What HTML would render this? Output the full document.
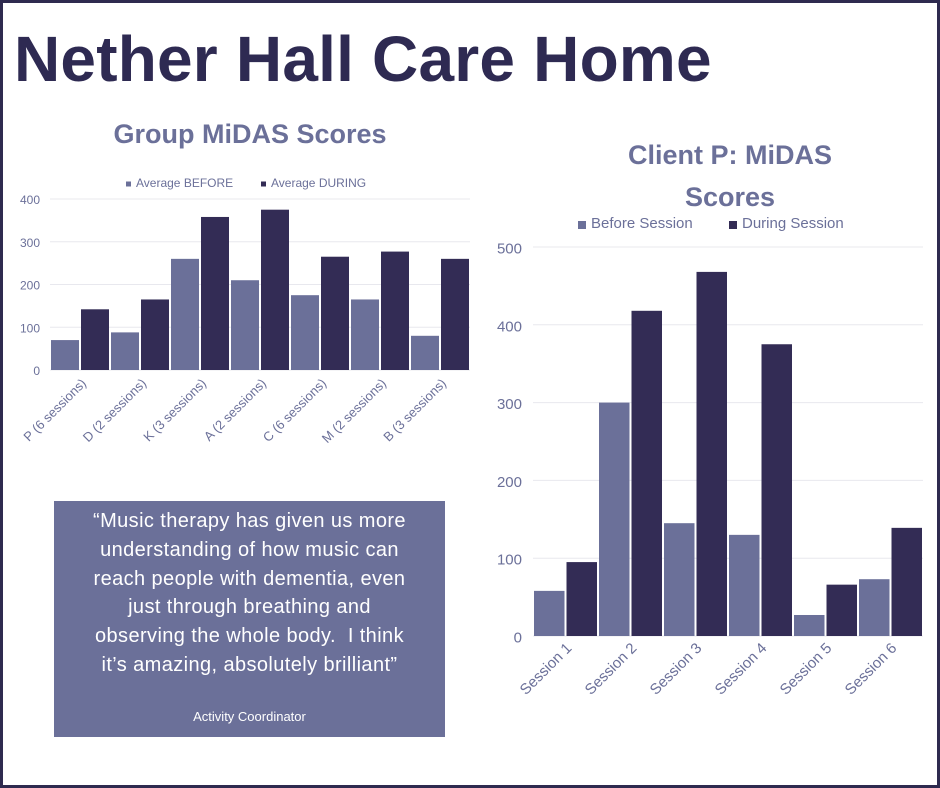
<!DOCTYPE html>
<html><head><meta charset="utf-8"><style>
body{margin:0;width:940px;height:788px;overflow:hidden;background:#fff;font-family:"Liberation Sans",sans-serif}
#frame{position:absolute;left:0;top:0;width:934px;height:782px;border:3px solid #2e2a4f;}
#title{position:absolute;left:14px;top:22px;font-size:64px;font-weight:bold;color:#2e2a52;letter-spacing:0.2px;white-space:nowrap}
.ct{position:absolute;color:#6b7099;font-weight:bold;text-align:center}
#quote{position:absolute;left:54px;top:501px;width:391px;height:236px;background:#6b7099;color:#fff;text-align:center}
#quote p{margin:6px 0 0;font-size:20px;line-height:28.8px;letter-spacing:0.4px;white-space:nowrap}
#quote .a{position:absolute;left:0;right:0;top:208px;font-size:13px}
svg{position:absolute;left:0;top:0}
</style></head><body>
<div id="frame"></div>
<div id="title">Nether Hall Care Home</div>
<div class="ct" style="left:40px;top:119px;width:420px;font-size:27px">Group MiDAS Scores</div>
<div class="ct" style="left:560px;top:134px;width:340px;font-size:27px;line-height:42px">Client P: MiDAS<br>Scores</div>
<div id="quote"><p>“Music therapy has given us more<br>understanding of how music can<br>reach people with dementia, even<br>just through breathing and<br>observing the whole body.&nbsp; I think<br>it’s amazing, absolutely brilliant”</p><div class="a">Activity Coordinator</div></div>
<svg id="chart" width="940" height="788"></svg>
<script>
const gCats=["P (6 sessions)","D (2 sessions)","K (3 sessions)","A (2 sessions)","C (6 sessions)","M (2 sessions)","B (3 sessions)"];
const gBefore=[70,88,260,210,175,165,80];
const gDuring=[142,165,358,375,265,277,260];
const gTicks=[0,100,200,300,400];
const pCats=["Session 1","Session 2","Session 3","Session 4","Session 5","Session 6"];
const pBefore=[58,300,145,130,27,73];
const pDuring=[95,418,468,375,66,139];
const pTicks=[0,100,200,300,400,500];
const NS="http://www.w3.org/2000/svg";
const svg=document.getElementById('chart');
function mk(t,a){const e=document.createElementNS(NS,t);for(const k in a)e.setAttribute(k,a[k]);svg.appendChild(e);return e;}
function chart(o){
  const y=v=>o.y0-(v-0)/o.max*(o.y0-o.yTop);
  const gw=(o.x1-o.x0)/o.cats.length;
  o.ticks.forEach(t=>{
    const l=mk('line',{x1:o.x0,x2:o.x1,y1:y(t),y2:y(t),stroke:'#e8e8ee','stroke-width':1});
    
    const tx=mk('text',{x:o.tx,y:y(t)+o.fs/2-1,'text-anchor':'end','font-size':o.fs,fill:'#6b7099'});
    tx.textContent=t;
  });
  o.cats.forEach((c,i)=>{
    const gx=o.x0+i*gw+1, bw=(gw-4)/2;
    const b1=mk('rect',{x:gx,y:y(o.b[i]),width:bw,height:o.y0-y(o.b[i]),fill:'#6b7099'});
    
    const b2=mk('rect',{x:gx+bw+2,y:y(o.d[i]),width:bw,height:o.y0-y(o.d[i]),fill:'#332c55'});
    
    const cx=o.x0+(i+0.5)*gw+o.lx, cy=o.y0+o.ly;
    const t=mk('text',{x:cx,y:cy,'text-anchor':'end','font-size':o.lfs2,fill:'#6b7099',transform:`rotate(-45 ${cx} ${cy})`});
    t.textContent=c;
  });
  o.leg.forEach((L,i)=>{
    const r=mk('rect',{x:L.x,y:o.legY-o.ls/2-3,width:o.ls,height:o.ls,fill:i?'#332c55':'#6b7099'});
    
    const t=mk('text',{x:L.x+o.ls+5,y:o.legY,'font-size':o.lfs,fill:'#6b7099'});
    t.textContent=L.t;
  });
}
chart({p:'group',cats:gCats,b:gBefore,d:gDuring,ticks:gTicks,max:400,x0:50,x1:470,y0:370,yTop:199,tx:40,fs:12,lfs2:13,lx:7,ly:14,
  legY:187,ls:5,lfs:12,leg:[{x:126,t:'Average BEFORE'},{x:261,t:'Average DURING'}]});
chart({p:'client',cats:pCats,b:pBefore,d:pDuring,ticks:pTicks,max:500,x0:533,x1:923,y0:636,yTop:247,tx:522,fs:15,lfs2:15,lx:7,ly:13,
  legY:228,ls:8,lfs:15,leg:[{x:578,t:'Before Session'},{x:729,t:'During Session'}]});
</script>
</body></html>
